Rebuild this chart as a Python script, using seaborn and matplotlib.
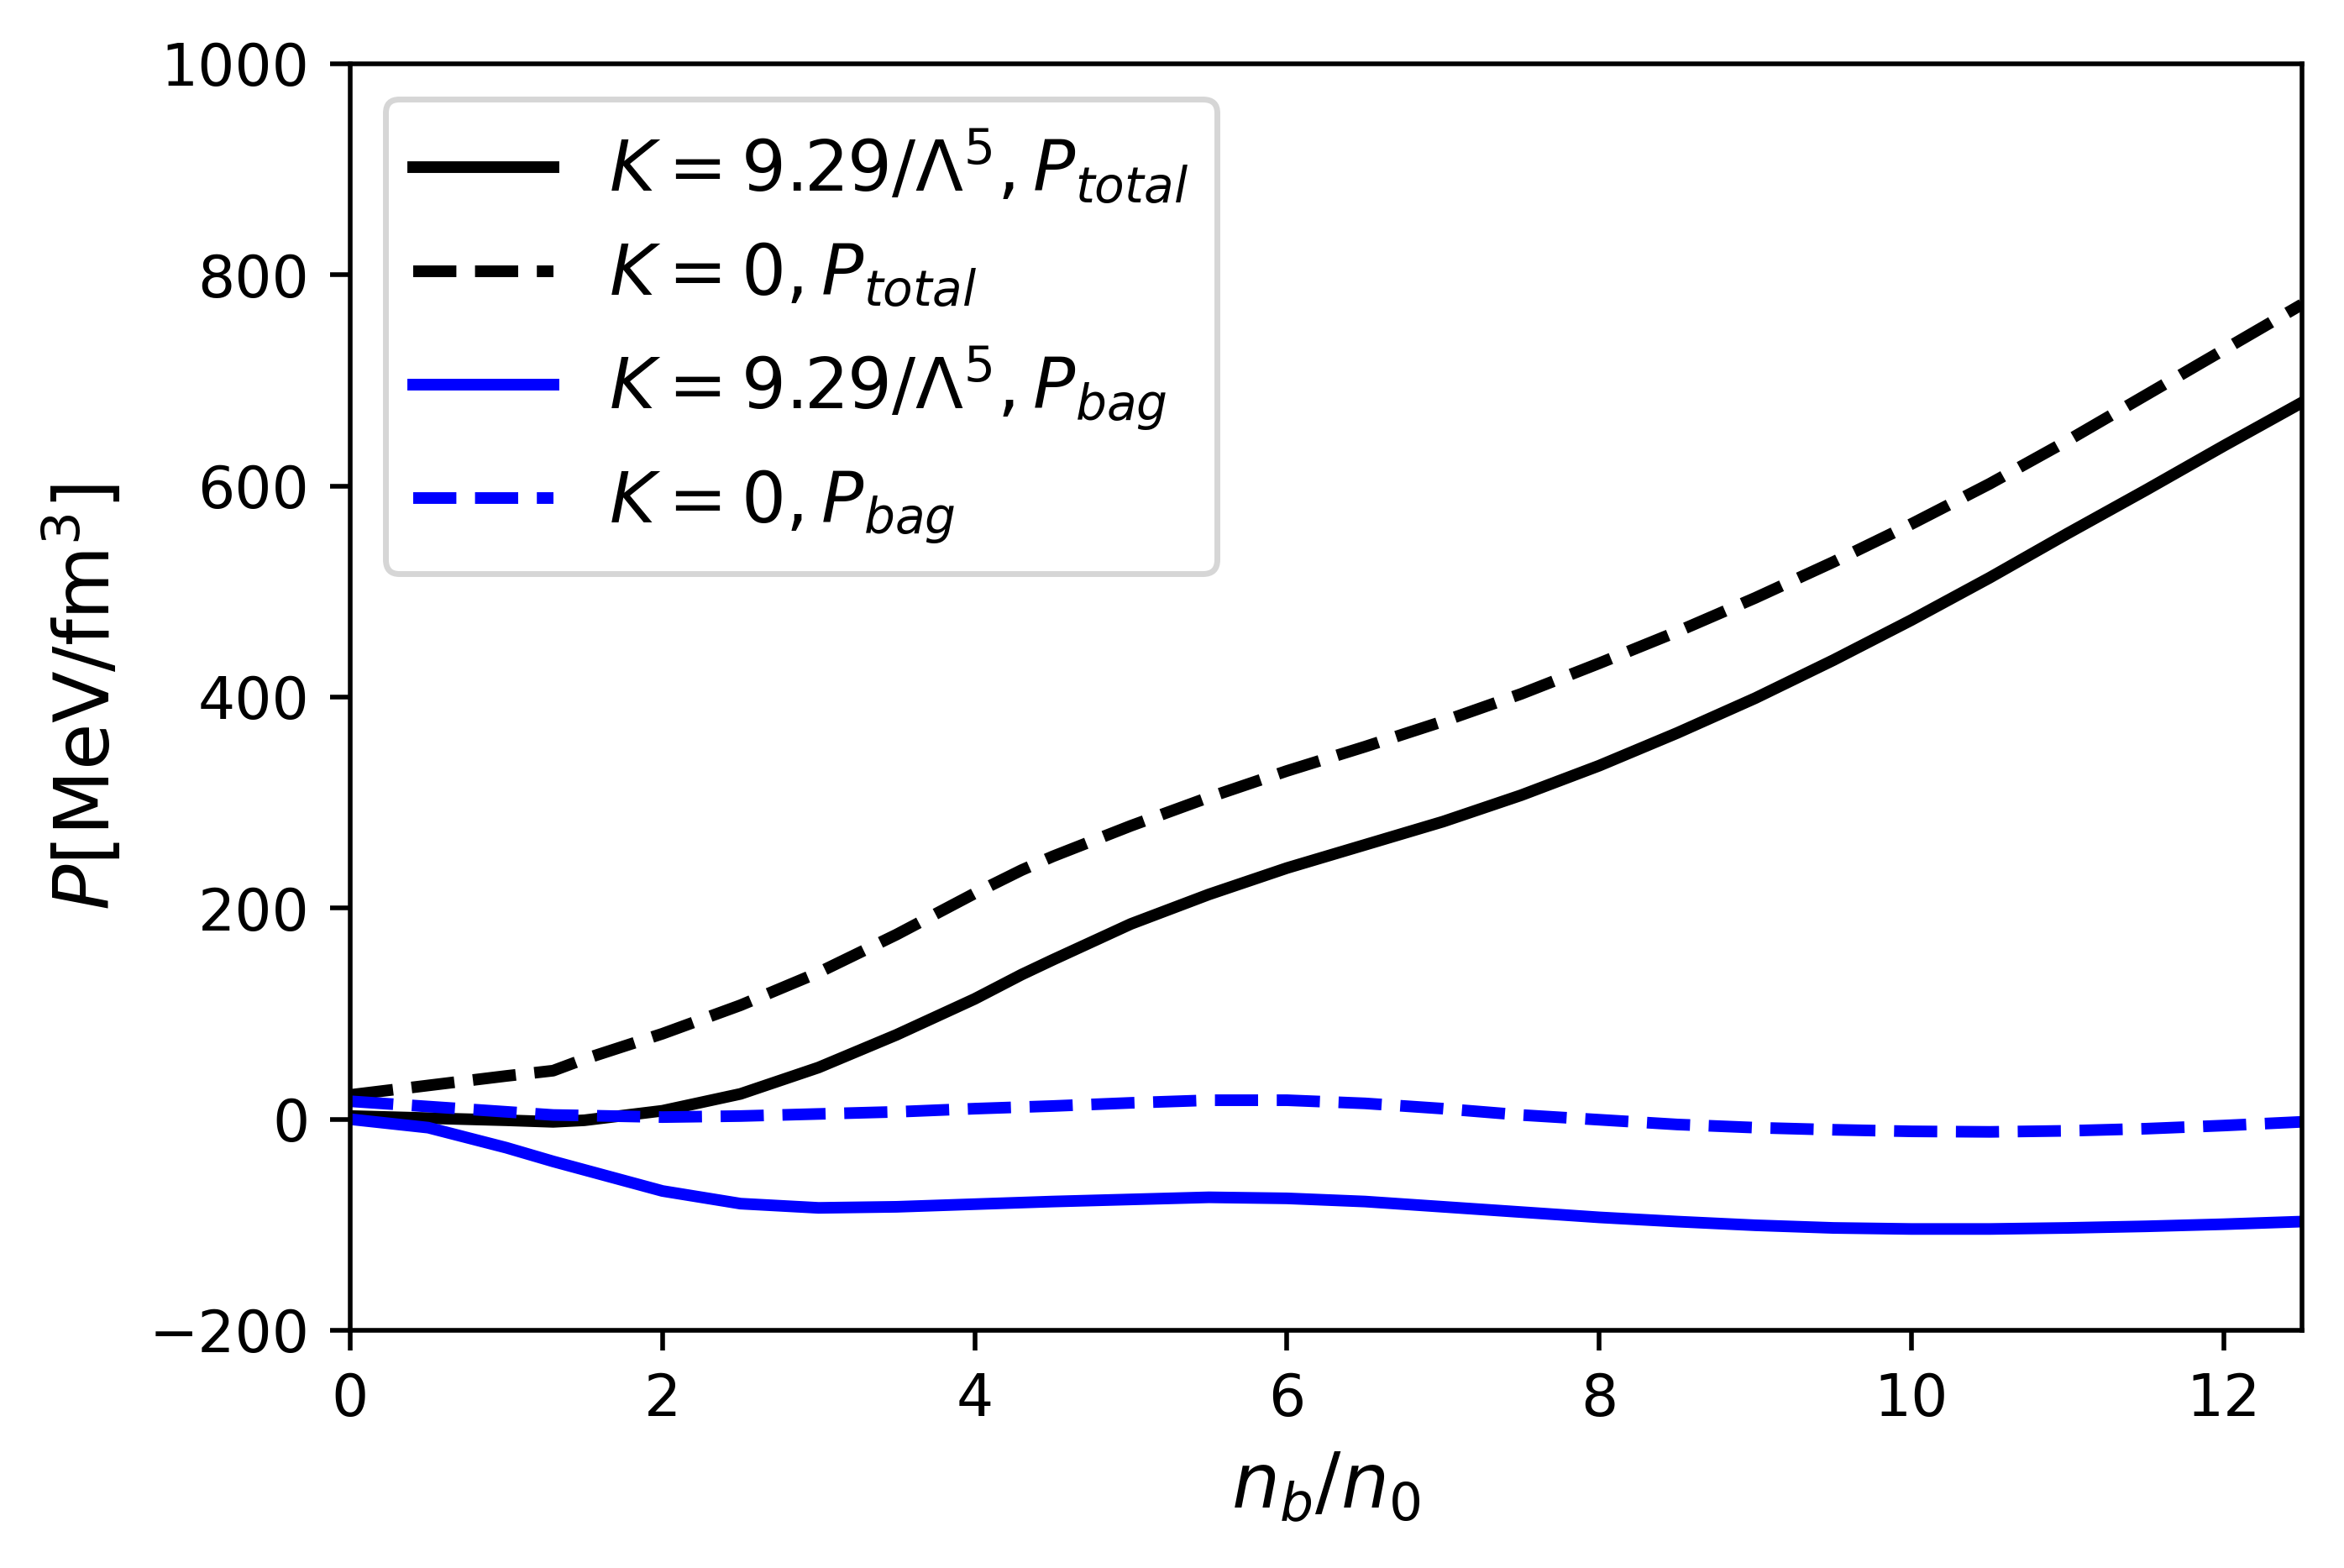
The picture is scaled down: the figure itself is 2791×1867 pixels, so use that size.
import numpy as np
import pandas as pd
import matplotlib
matplotlib.use('Agg')
import matplotlib.pyplot as plt
import seaborn as sns

# density grid n_b/n_0
nb = [0.0, 0.5, 1.0, 1.3, 1.5, 2.0, 2.5, 3.0, 3.5, 4.0, 4.3, 4.5, 5.0, 5.5, 6.0, 6.5,
      7.0, 7.5, 8.0, 8.5, 9.0, 9.5, 10.0, 10.5, 11.0, 11.5, 12.0, 12.5]

# K = 9.29/Lambda^5, total pressure
p_total_k = [3, 1, -1, -2.5, -1, 8, 24, 49, 80, 114, 137, 151, 185, 213, 238, 260,
             282, 307, 335, 366, 399, 435, 473, 513, 555, 596, 638, 679]
# K = 0, total pressure
p_total_0 = [23, 32, 41, 46, 57, 81, 108, 139, 175, 214, 236, 249, 278, 305, 330, 353,
             377, 403, 432, 462, 494, 528, 564, 602, 643, 686, 729, 772]
# K = 9.29/Lambda^5, bag pressure
p_bag_k = [0, -8, -27, -40, -48, -68, -80, -84, -83, -80.5, -79, -78, -76, -74, -75, -78,
           -83, -88, -93, -97, -100.5, -103, -104, -104, -103, -101.5, -99.5, -97]
# K = 0, bag pressure
p_bag_0 = [17, 12, 7, 4, 3.5, 2, 3, 5, 7, 10, 11.5, 12.5, 15.5, 18, 18, 15,
           10, 4, -0.5, -5, -8, -10, -11.5, -12, -11, -9, -6, -2.5]

labels = [r'$K=9.29/\Lambda^5, P_{total}$', r'$K=0, P_{total}$',
          r'$K=9.29/\Lambda^5, P_{bag}$', r'$K=0, P_{bag}$']

fig = plt.figure(figsize=(2791 / 500, 1867 / 500), dpi=500)
ax = fig.add_axes([0.1494, 0.1516, 0.8326, 0.8077])

sns.lineplot(x=nb, y=p_total_k, ax=ax, color='black', linewidth=2, label=labels[0])
sns.lineplot(x=nb, y=p_total_0, ax=ax, color='black', linewidth=2, linestyle='--', label=labels[1])
sns.lineplot(x=nb, y=p_bag_k, ax=ax, color='blue', linewidth=2, label=labels[2])
sns.lineplot(x=nb, y=p_bag_0, ax=ax, color='blue', linewidth=2, linestyle='--', label=labels[3])

ax.set_xlim(0, 12.5)
ax.set_ylim(-200, 1000)
ax.set_xticks([0, 2, 4, 6, 8, 10, 12])
ax.set_yticks([-200, 0, 200, 400, 600, 800, 1000])
ax.tick_params(labelsize=10)
ax.set_xlabel(r'$n_b/n_0$', fontsize=13)
ax.set_ylabel(r'$P[\mathrm{MeV/fm}^3]$', fontsize=13)
ax.legend(loc='upper left', fontsize=12, handlelength=2.0)

fig.savefig('out.png', dpi=500)
